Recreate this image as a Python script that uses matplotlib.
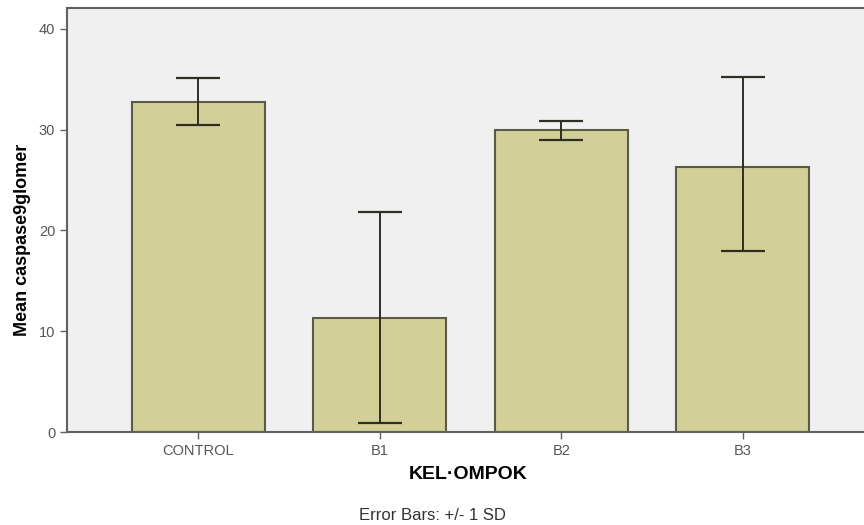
import matplotlib.pyplot as plt
import numpy as np

categories = ['CONTROL', 'B1', 'B2', 'B3']
means = [32.7, 11.35, 29.95, 26.3]
lower = [30.4, 0.9, 29.0, 18.0]
upper = [35.1, 21.8, 30.8, 35.2]

plt.rcParams['font.family'] = ['Liberation Sans', 'DejaVu Sans']

fig = plt.figure(figsize=(8.64, 5.25), dpi=100)
ax = fig.add_axes([0.0775, 0.177, 0.9225, 0.808])
ax.set_facecolor('#f0f0f0')

x = np.arange(len(categories))
m = np.array(means)
yerr = [m - np.array(lower), np.array(upper) - m]

ax.bar(x, means, width=0.733, color='#d3cf98', edgecolor='#5a5a48', linewidth=1.5, zorder=2)
ax.errorbar(x, means, yerr=yerr, fmt='none', ecolor='#2e2e22', elinewidth=1.4,
            capsize=16, capthick=1.6, zorder=3)

ax.set_xlim(-0.724, 3.667)
ax.set_ylim(0, 42.06)
ax.set_yticks([0, 10, 20, 30, 40])
ax.set_xticks(x)
ax.set_xticklabels(categories)

for s in ['left', 'top', 'bottom']:
    ax.spines[s].set_color('#606060')
    ax.spines[s].set_linewidth(1.5)
ax.spines['right'].set_visible(False)

ax.tick_params(axis='both', colors='#606060', labelcolor='#555555', labelsize=10.5,
               length=5, width=1)

ax.set_ylabel('Mean caspase9glomer', fontsize=13, fontweight='bold', va='center')
ax.yaxis.set_label_coords(-0.0552, 0.453)
ax.set_xlabel('KEL·OMPOK', fontsize=14, fontweight='bold', va='center')
ax.xaxis.set_label_coords(0.503, -0.101)

fig.text(0.501, 0.019, 'Error Bars: +/- 1 SD', ha='center', va='center', fontsize=12,
         color='#333333')

fig.savefig('out.png', dpi=100)
